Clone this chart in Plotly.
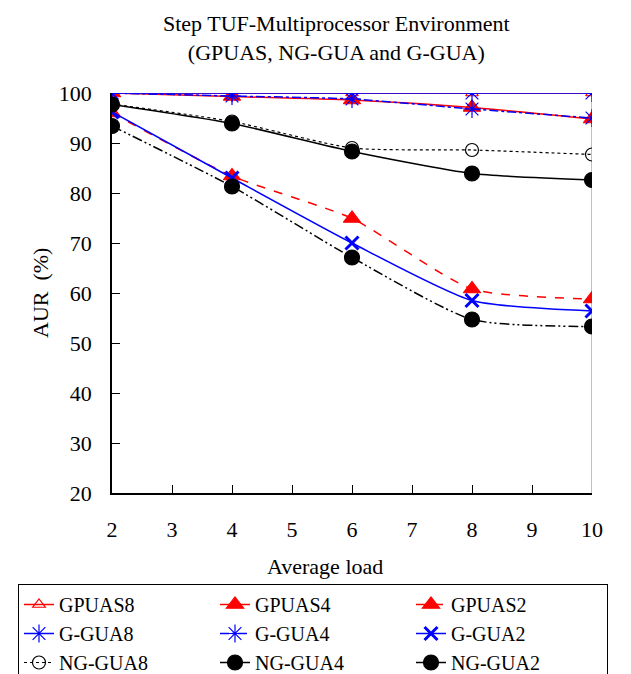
import plotly.graph_objects as go

loads = [2, 4, 6, 8, 10]

gpuas8 = [100, 100, 100, 100, 100]
gpuas4 = [100, 99.3, 98.6, 97.1, 94.8]
gpuas2 = [96.0, 83.4, 74.9, 60.8, 58.8]
ggua8 = [100, 100, 100, 100, 100]
ggua4 = [100, 99.4, 98.8, 96.8, 95.0]
ggua2 = [96.2, 83.0, 70.0, 58.5, 56.4]
nggua8 = [97.8, 94.3, 89.0, 88.6, 87.7]
nggua4 = [97.7, 93.9, 88.3, 83.9, 82.6]
nggua2 = [93.4, 81.3, 67.1, 54.7, 53.3]

y_ticks = [20, 30, 40, 50, 60, 70, 80, 90, 100]
x_ticks = [2, 3, 4, 5, 6, 7, 8, 9, 10]

RED = "#ff0000"
BLUE = "#0000ff"
BLACK = "#000000"
FONT = "Liberation Serif"

series = [
    ("GPUAS8", gpuas8, RED, "solid", "triangle-up-open", 11, 1.5),
    ("GPUAS4", gpuas4, RED, "solid", "triangle-up", 15, 1.5),
    ("GPUAS2", gpuas2, RED, "dash", "triangle-up", 15, 1.5),
    ("G-GUA8", ggua8, BLUE, "solid", "asterisk-open", 15, 1.5),
    ("G-GUA4", ggua4, BLUE, "dashdot", "asterisk-open", 15, 1.5),
    ("G-GUA2", ggua2, BLUE, "solid", "x-thin-open", 13, 1.5),
    ("NG-GUA8", nggua8, BLACK, "dot", "circle-open", 13, 1.2),
    ("NG-GUA4", nggua4, BLACK, "solid", "circle", 15, 1.5),
    ("NG-GUA2", nggua2, BLACK, "10px,3px,2px,3px,2px,3px", "circle", 15, 1.5),
]

fig = go.Figure()
for name, vals, color, dash, symbol, size, lw in series:
    mline = dict(color=color, width=1.2)
    if symbol == "x-thin-open":
        mline = dict(color=color, width=3)
    fig.add_trace(go.Scatter(
        x=loads, y=vals, name=name, mode="lines+markers",
        line=dict(color=color, width=lw, dash=dash, shape="spline", smoothing=0.6),
        marker=dict(symbol=symbol, size=size, color=color, line=mline),
    ))

# plot-area border (gray right/top edges)
fig.add_shape(type="line", xref="x", yref="y", x0=10, x1=10, y0=20, y1=100,
              line=dict(color="#808080", width=1), layer="below")
fig.add_shape(type="line", xref="x", yref="y", x0=2, x1=10, y0=100, y1=100,
              line=dict(color="#808080", width=1), layer="below")

fig.add_annotation(text="Step TUF-Multiprocessor Environment<br>(GPUAS, NG-GUA and G-GUA)",
                   xref="paper", yref="paper", x=(336 - 112) / 480, y=(493 - 38) / 400,
                   xanchor="center", yanchor="middle", showarrow=False,
                   font=dict(family=FONT, size=22, color=BLACK))
fig.add_annotation(text="Average load", xref="paper", yref="paper",
                   x=(325 - 112) / 480, y=(493 - 566) / 400,
                   xanchor="center", yanchor="middle", showarrow=False,
                   font=dict(family=FONT, size=22, color=BLACK))
fig.add_annotation(text="AUR  (%)", xref="paper", yref="paper",
                   x=(40 - 112) / 480, y=0.5, textangle=-90,
                   xanchor="center", yanchor="middle", showarrow=False,
                   font=dict(family=FONT, size=22, color=BLACK))

fig.update_layout(
    width=631, height=674,
    margin=dict(l=112, r=39, t=93, b=181, autoexpand=False),
    paper_bgcolor="white", plot_bgcolor="white",
    font=dict(family=FONT, size=20, color=BLACK),
    showlegend=True,
    legend=dict(orientation="h", x=(18 - 112) / 480, xanchor="left",
                y=(493 - 584) / 400, yanchor="top",
                entrywidth=151, entrywidthmode="pixels",
                bordercolor=BLACK, borderwidth=1,
                font=dict(family=FONT, size=20, color=BLACK),
                traceorder="normal"),
    xaxis=dict(range=[2, 10], tickvals=x_ticks, ticktext=[str(v) for v in x_ticks],
               showgrid=False, zeroline=False, showline=True, linecolor=BLACK, linewidth=1.5,
               ticks="inside", ticklen=8, tickcolor=BLACK, ticklabelstandoff=16,
               tickfont=dict(family=FONT, size=22, color=BLACK)),
    yaxis=dict(range=[20, 100], tickvals=y_ticks, ticktext=[str(v) for v in y_ticks],
               showgrid=False, zeroline=False, showline=True, linecolor=BLACK, linewidth=1.5,
               ticks="inside", ticklen=8, tickcolor=BLACK, ticklabelstandoff=14,
               tickfont=dict(family=FONT, size=22, color=BLACK)),
)

fig.write_html("out.html", config={"displayModeBar": False},
               post_script="document.body.style.margin='0';")
